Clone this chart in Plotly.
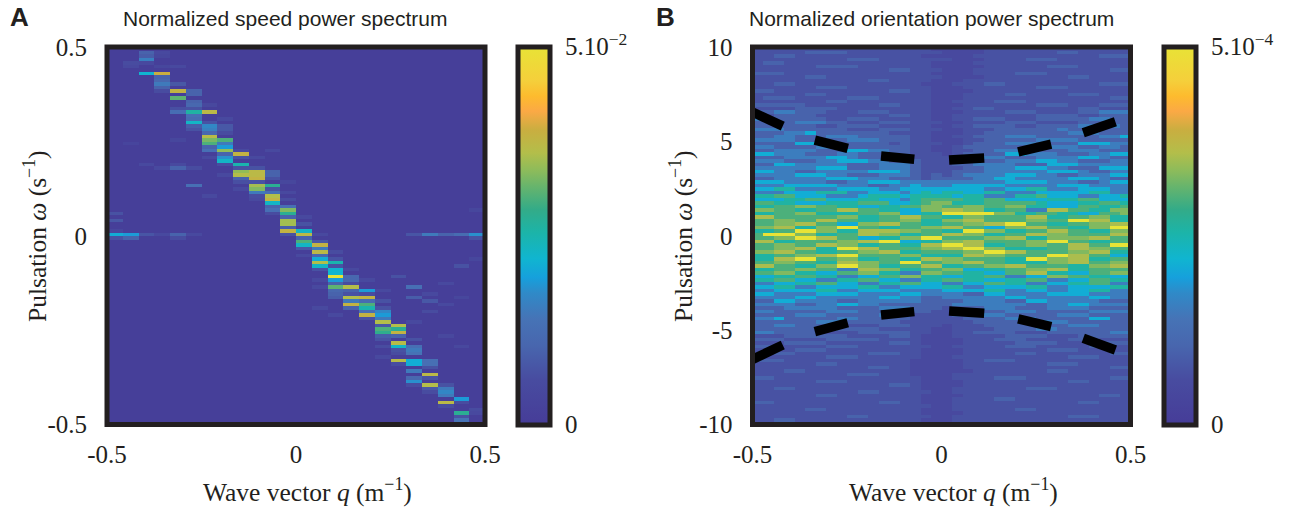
import numpy as np
import plotly.graph_objects as go

W, H = 1299, 509
N_ROWS = 108

# --- Panel A: bright cells read per column as (row from top, fraction of 5e-2)
a_c0 = [(47, .14), (49, .16), (52, .08), (53, .42), (54, .14)]
a_c1 = [(4, .12), (5, .1), (27, .07), (53, .38), (54, .2)]
a_c2 = [(1, .2), (2, .18), (3, .32), (4, .1), (7, .44), (33, .1), (53, .15)]
a_c3 = [(1, .1), (2, .08), (5, .08), (7, .78), (8, .2), (9, .22), (10, .3), (11, .2), (12, .12), (34, .1), (53, .1)]
a_c4 = [(5, .1), (10, .16), (12, .76), (14, .62), (17, .13), (18, .25), (26, .08), (33, .1), (34, .2), (53, .2), (54, .12)]
a_c5 = [(12, .2), (13, .2), (15, .2), (16, .22), (17, .14), (18, .52), (19, .26), (20, .24), (21, .46), (22, .18), (23, .14), (34, .12), (39, .26), (53, .1)]
a_c6 = [(16, .09), (18, .74), (21, .14), (22, .34), (23, .32), (24, .22), (25, .73), (26, .65), (27, .6), (28, .2), (29, .26), (31, .1), (42, .1)]
a_c7 = [(20, .1), (22, .16), (23, .16), (24, .12), (26, .6), (27, .3), (28, .38), (29, .68), (30, .2), (31, .36), (32, .46), (33, .12), (36, .1)]
a_c8 = [(29, .1), (30, .76), (31, .14), (33, .5), (34, .14), (35, .68), (36, .72), (37, .2), (38, .13), (40, .1)]
a_c9 = [(31, .1), (34, .14), (35, .74), (36, .74), (37, .76), (38, .14), (39, .7), (40, .66), (41, .3), (42, .12), (43, .1)]
a_c10 = [(29, .1), (35, .2), (36, .2), (37, .14), (39, .55), (40, .14), (41, .26), (42, .72), (43, .76), (44, .46), (45, .2), (46, .26), (47, .12)]
a_c11 = [(38, .08), (41, .1), (43, .12), (45, .26), (46, .66), (47, .55), (48, .2), (49, .7), (50, .7), (51, .18), (52, .76), (53, .14)]
a_c12 = [(48, .1), (50, .14), (52, .46), (53, .74), (54, .2), (55, .6), (56, .46), (57, .16), (59, .1)]
a_c13 = [(53, .1), (55, .16), (56, .76), (57, .3), (58, .74), (59, .22), (60, .42), (61, .72), (62, .46), (63, .14), (66, .1), (68, .1), (74, .1)]
a_c14 = [(58, .12), (60, .14), (61, .5), (62, .14), (63, .44), (64, .44), (65, 1.0), (66, .38), (67, .2), (68, .62), (69, .22), (70, .2), (71, .18), (76, .1)]
a_c15 = [(63, .1), (65, .22), (66, .22), (67, .12), (68, .72), (69, .2), (70, .14), (71, .72), (72, .3), (73, .76), (74, .2)]
a_c16 = [(66, .1), (69, .38), (70, .12), (71, .76), (72, .24), (73, .6), (74, .5), (75, .26), (76, .76), (77, .14)]
a_c17 = [(69, .1), (72, .14), (74, .14), (75, .34), (76, .38), (77, .3), (78, .72), (79, .16), (80, .6), (81, .56), (82, .18), (83, .14), (85, .12), (88, .1)]
a_c18 = [(65, .14), (79, .72), (80, .55), (81, .76), (82, .2), (84, .73), (85, .46), (86, .14), (87, .12), (89, .73), (90, .12)]
a_c19 = [(53, .15), (68, .26), (71, .18), (78, .1), (83, .14), (85, .26), (86, .3), (87, .28), (89, .42), (90, .42), (92, .3), (94, .22), (95, .36), (96, .12)]
a_c20 = [(53, .3), (70, .1), (72, .16), (75, .12), (89, .26), (90, .26), (91, .14), (93, .74), (94, .14), (96, .72), (97, .16), (98, .12)]
a_c21 = [(53, .2), (67, .1), (73, .1), (82, .09), (96, .14), (97, .3), (98, .34), (99, .3), (101, .74), (102, .12)]
a_c22 = [(53, .24), (62, .14), (71, .08), (85, .09), (100, .38), (101, .12), (104, .55), (105, .14), (106, .28), (107, .22)]
a_c23 = [(53, .36), (54, .14), (46, .08), (60, .08), (103, .12), (104, .1)]
a_columns = [a_c0, a_c1, a_c2, a_c3, a_c4, a_c5, a_c6, a_c7, a_c8, a_c9, a_c10, a_c11,
             a_c12, a_c13, a_c14, a_c15, a_c16, a_c17, a_c18, a_c19, a_c20, a_c21, a_c22, a_c23]
a_floor = 0.02
a_max = 5e-2

# --- Panel B: one character per cell, read top to bottom; see b_levels for the meaning
b_rows_top = [
"111111111111111110000011111111111111", "111112222111111111000011111112211111",
"112211111111111100000111111111111222", "111111111222111111100011112221111111",
"122111111111111110000111111111111111", "111111222211111110000011111122211111",
"111111111111122111000111111111111122", "222111111111111110000111122211111111",
"111112211111111111000011111111221111", "111111111112211110001111111111111111",
"112211111111111100011122111111111222", "111111222111111110001111111222111111",
"221111111111122110000111111111111111", "111112211111111110001111221111222111",
"122211111222111110001111111111111122", "111111122111111110011112221111111111",
"222221111111221110001111111222111222", "111122221111111110011221111111122111",
"223322211122211110001111222111122333", "112222111111122110011111111222211222",
"332222211222111110011222111222223322", "222233322111222111001111222111122222",
"222222112222111110011222211222233332", "333222222111222111001112222223222222",
"222334222222211110001122222222333222", "223322233322222110011222333222222334",
"333322222333222110001122222333322222", "222244332222212111001222333222244433",
"332222333222222110012222222333322332", "223333222443322110011223333222333222",
"443332223322222111012222443332223344", "222333344322233111112233222333344322",
"333222334443322211112222333443322233", "224433333222333211122333322244433333",
"333333444222333211112233344433222444", "443322333334443211122233333344432233",
"333344433222333212123333444332233344", "223333344433322212222334433333444322",
]
b_rows_mid = [
"444333322334443333333333444433322344", "333444443332233433344444333334443333",
"445533334444334444444433445533344433", "333444555334443454554455333444445533",
"556644433345554555545533355644433445", "444556644455443566665566444455566444",
"665544455566644567755566666544455665", "556677665544556677667766775544466556",
"776655668866554477887755663388665577", "556677555566774455999997755665544667",
"886666667755668866557766668855667755", "667766886655667755778866667766998855",
"667788664477886655667788996655667788", "778855779966556677886644778866557799",
"556699775588887766559977556688665577", "699977556688775566887755668877666688",
"667799886644557799666677885577778866", "885566667788994455778866667799665566",
"667766887755665588998855667766886699", "667788559988666677889977555566887766",
"778866556677885566667799886666778855", "556677889966667755558877666699886644",
"558899667755665588776666559977885566", "667766558877669966778866555577886677",
"886655779977556688556677886666557788", "556677663388775566774455667788556666",
"667755446677553377665544668855446677", "445566553344667755445566334477665544",
"556644335566443355665544556633446655", "334455664433556644334466553344556633",
"445533444455334444553344445533444455", "334444553344443333444455334433445533",
"443333444433334433332244333344443333", "333344333333443322333333443333334433",
"224433332233333322223333224433333222", "333322334433222222233333332233443333",
]
b_rows_bot = [
"222333332222333222122233322233332222", "332222233322222221122222333222223333",
"222233322222333111122233222223332222", "334222223322222111112222333222224422",
"222222333222221111111222222333222222", "223322222111222111011122222222333222",
"222222332222111110011112222332222222", "332222111122222110011222211122222233",
"111222222111122100011111222211122222", "222111122222111100001112221111222111",
"111222211111122100001111122221111222", "221111122211111110011111222111112211",
"111122211111111100001111111122211111", "112211111112221100001111122111111122",
"111111122211111100011111111111222111", "222111111111111000001122211111111111",
"111111221111111000001111111122211111", "111111111112211000001111111111111122",
"111221111111111000000111111122111111", "111111111222111000011111111111111111",
"221111111111111100011112221111111122", "111111222111111100001111111111221111",
"111111111111122100001111111111111111", "112211111111111100011111112221111111",
"111111111122111110011111111111111111", "111111221111111100001111111111111221",
"111111111111111100011112211111111111", "221111111111221100011111111111122111",
"111111111111111110011111111111111111", "111112211111111100011111122111111111",
"111111111111111100001111111111111111", "111111111221111110011111111111222111",
"112211111111111100011111111111111111", "111111111111111100011111111211111111",
]
b_levels = [.1, .14, .2, .31, .42, .52, .6, .66, .71, 1.0]
b_max = 5e-4

# --- Dashed guide in panel B: each dash is a start and an end point
dash_q_start = [-0.5, -0.335, -0.16, 0.02, 0.203, 0.375]
dash_q_end = [-0.42, -0.248, -0.072, 0.113, 0.29, 0.46]
top_start = [6.55, 5.07, 4.22, 4.01, 4.45, 5.46]
top_end = [5.81, 4.63, 4.05, 4.12, 4.86, 6.04]
bot_start = [-6.55, -5.08, -4.2, -3.99, -4.41, -5.43]
bot_end = [-5.79, -4.61, -4.02, -4.11, -4.82, -6.05]

# --- Ticks and text
a_xticks, a_xlabels = [-0.5, 0, 0.5], ["-0.5", "0", "0.5"]
a_yticks, a_ylabels = [-0.5, 0, 0.5], ["-0.5", "0", "0.5"]
b_yticks, b_ylabels = [-10, -5, 0, 5, 10], ["-10", "-5", "0", "5", "10"]
a_cbar_label = "5.10<sup>\u22122</sup>"
b_cbar_label = "5.10<sup>\u22124</sup>"

parula = [
    [0.00, "#463c98"], [0.12, "#484ca0"], [0.21, "#4866ae"], [0.28, "#4673b6"],
    [0.35, "#2f8ac8"], [0.39, "#16a0dc"], [0.44, "#10b5d0"], [0.51, "#1cb4a8"],
    [0.57, "#33ab88"], [0.63, "#66b46d"], [0.67, "#8abb5c"], [0.72, "#b3be4a"],
    [0.78, "#c9ae40"], [0.83, "#fba945"], [0.87, "#fdbb2e"], [0.91, "#f5cf3b"],
    [1.00, "#e8e336"],
]

SERIF = "Liberation Serif"
SANS = "Liberation Sans"
INK = "#231f20"
TICK = dict(family=SERIF, size=25, color=INK)

# Build grids
z_a = np.full((N_ROWS, len(a_columns)), a_floor)
for c, cells in enumerate(a_columns):
    for r, v in cells:
        z_a[r, c] = v
z_a = z_a * a_max

b_rows = b_rows_top + b_rows_mid + b_rows_bot
z_b = np.array([[b_levels[int(ch)] for ch in row[:36].ljust(36, row[-1])] for row in b_rows]) * b_max


def centres(lo, hi, n):
    edges = np.linspace(lo, hi, n + 1)
    return (edges[:-1] + edges[1:]) / 2


def cbar(x_px, label, top):
    return dict(
        x=x_px / W, xanchor="left", xpad=0, y=1 - 424.5 / H, yanchor="bottom", ypad=0,
        len=(424.5 - 47) / H, lenmode="fraction", thickness=32, thicknessmode="pixels",
        outlinewidth=5, outlinecolor=INK, tickmode="array", tickvals=[0, top], ticktext=["0", label],
        ticks="outside", ticklen=8, tickcolor="rgba(0,0,0,0)", tickfont=TICK, borderwidth=0,
    )


fig = go.Figure()
fig.add_trace(go.Heatmap(
    z=z_a, x=centres(-0.5, 0.5, z_a.shape[1]), y=centres(0.5, -0.5, z_a.shape[0]),
    colorscale=parula, zmin=0, zmax=a_max, colorbar=cbar(518, a_cbar_label, a_max),
    xaxis="x", yaxis="y",
))
fig.add_trace(go.Heatmap(
    z=z_b, x=centres(-0.5, 0.5, z_b.shape[1]), y=centres(10, -10, z_b.shape[0]),
    colorscale=parula, zmin=0, zmax=b_max, colorbar=cbar(1164, b_cbar_label, b_max),
    xaxis="x2", yaxis="y2",
))
for starts, ends in ((top_start, top_end), (bot_start, bot_end)):
    xs, ys = [], []
    for q0, q1, w0, w1 in zip(dash_q_start, dash_q_end, starts, ends):
        xs += [q0, q1, None]
        ys += [w0, w1, None]
    fig.add_trace(go.Scatter(x=xs, y=ys, mode="lines", line=dict(color="black", width=9.5),
                             xaxis="x2", yaxis="y2", showlegend=False, hoverinfo="skip"))


def axis(dom_lo, dom_hi, rng, vals, text, n_px):
    return dict(domain=[dom_lo, dom_hi], range=rng, tickmode="array", tickvals=vals, ticktext=text,
                tickfont=TICK, ticks="outside", ticklen=n_px, tickcolor="rgba(0,0,0,0)",
                showgrid=False, zeroline=False, showline=False)


y_dom = (1 - 424.5 / H, 1 - 47 / H)
annots = []


def note(x, y, text, size, family=SERIF, angle=0, xanchor="center"):
    annots.append(dict(x=x / W, y=1 - y / H, xref="paper", yref="paper", text=text, showarrow=False,
                       font=dict(family=family, size=size, color=INK), textangle=angle,
                       xanchor=xanchor, yanchor="middle"))


note(8, 17, "<b>A</b>", 26, SANS, xanchor="left")
note(654, 17, "<b>B</b>", 26, SANS, xanchor="left")
note(285, 19, "Normalized speed power spectrum", 21, SANS)
note(931, 19, "Normalized orientation power spectrum", 21, SANS)
wave = "Wave vector <i>q</i> (m<sup>\u22121</sup>)"
pulse = "Pulsation <i>\u03c9</i> (s<sup>\u22121</sup>)"
note(307, 490, wave, 25.5)
note(953, 490, wave, 25.5)
note(35, 236, pulse, 25.5, angle=-90)
note(681, 236, pulse, 25.5, angle=-90)

frame = dict(type="rect", x0=0, x1=1, y0=0, y1=1, line=dict(color=INK, width=5), layer="above")

fig.update_layout(
    width=W, height=H, margin=dict(l=0, r=0, t=0, b=0, autoexpand=False),
    paper_bgcolor="white", plot_bgcolor="white", showlegend=False,
    xaxis=axis(107 / W, 485 / W, [-0.5, 0.5], a_xticks, a_xlabels, 7),
    yaxis=axis(*y_dom, [-0.5, 0.5], a_yticks, a_ylabels, 14),
    xaxis2=axis(752.5 / W, 1130.5 / W, [-0.5, 0.5], a_xticks, a_xlabels, 7),
    yaxis2=axis(*y_dom, [-10, 10], b_yticks, b_ylabels, 14),
    annotations=annots,
    shapes=[dict(frame, xref="x domain", yref="y domain"), dict(frame, xref="x2 domain", yref="y2 domain")],
)
fig.update_layout(yaxis2_anchor="x2", xaxis2_anchor="y2")

fig.write_html("out.html", post_script="document.body.style.margin='0';", config=dict(displayModeBar=False))
